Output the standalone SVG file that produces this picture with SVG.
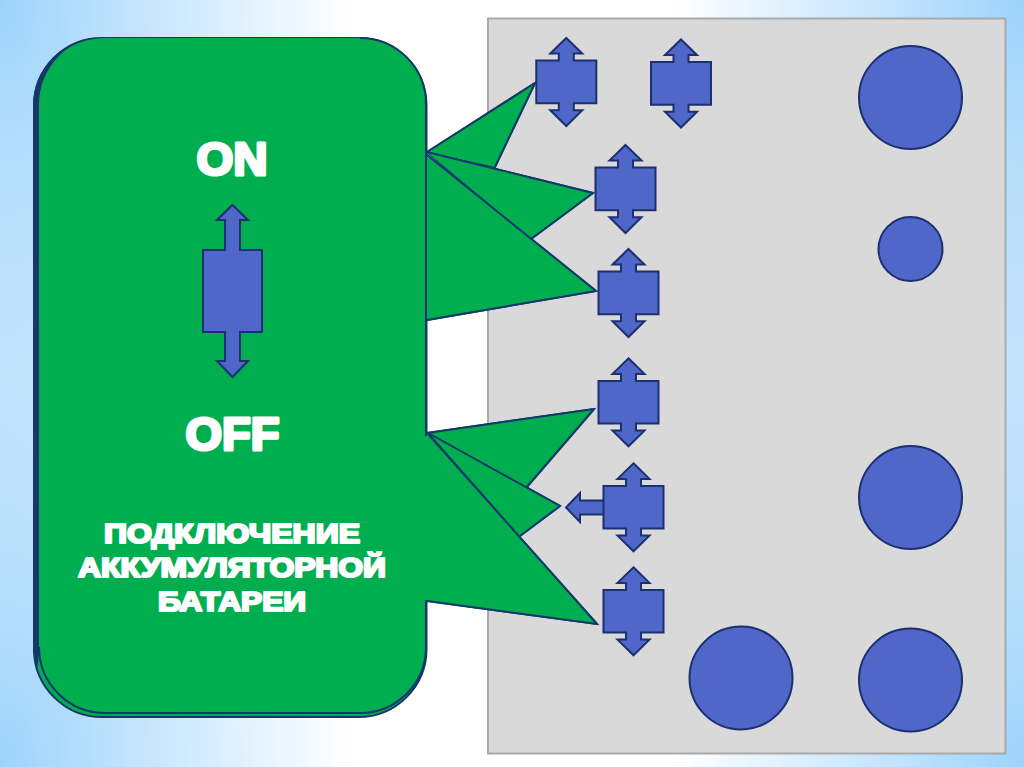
<svg xmlns="http://www.w3.org/2000/svg" width="1024" height="767" viewBox="0 0 1024 767">
<style>
.co{fill:#00ae50;stroke:#14386b;stroke-width:2;stroke-linejoin:miter}
.sh{fill:#4f67c8;stroke:#1c2f6e;stroke-width:2;stroke-linejoin:miter}
.t{font-family:"Liberation Sans",Arial,sans-serif;font-weight:bold;fill:#fff;stroke:#fff;text-anchor:middle;stroke-linejoin:round}
.big{font-size:46px;stroke-width:3.2}
.sm{font-size:27px;stroke-width:2.2}
</style>
<defs>
<radialGradient id="c1" gradientUnits="userSpaceOnUse" cx="0" cy="0" r="1" gradientTransform="translate(0 0) scale(350 640)"><stop offset="0" stop-color="#9dd3fb"/><stop offset="1" stop-color="#9dd3fb" stop-opacity="0"/></radialGradient>
<radialGradient id="c2" gradientUnits="userSpaceOnUse" cx="0" cy="0" r="1" gradientTransform="translate(1024 0) scale(350 640)"><stop offset="0" stop-color="#9dd3fb"/><stop offset="1" stop-color="#9dd3fb" stop-opacity="0"/></radialGradient>
<radialGradient id="c3" gradientUnits="userSpaceOnUse" cx="0" cy="0" r="1" gradientTransform="translate(0 767) scale(350 640)"><stop offset="0" stop-color="#9dd3fb"/><stop offset="1" stop-color="#9dd3fb" stop-opacity="0"/></radialGradient>
<radialGradient id="c4" gradientUnits="userSpaceOnUse" cx="0" cy="0" r="1" gradientTransform="translate(1024 767) scale(350 640)"><stop offset="0" stop-color="#9dd3fb"/><stop offset="1" stop-color="#9dd3fb" stop-opacity="0"/></radialGradient>
<path id="dbl" class="sh" d="M0 0L16 15.600H7.500V22.600H30V65.300H7.500V72.300H16L0 88L-16 72.300H-7.500V65.300H-30V22.600H-7.500V15.600H-16Z"/>
</defs>
<rect width="1024" height="767" fill="#fff"/>
<rect width="1024" height="767" fill="url(#c1)"/>
<rect width="1024" height="767" fill="url(#c2)"/>
<rect width="1024" height="767" fill="url(#c3)"/>
<rect width="1024" height="767" fill="url(#c4)"/>
<g id="panel"><rect x="488" y="18.500" width="517.500" height="735" fill="#d9d9d9" stroke="#a9a9a9" stroke-width="2"/></g>
<g id="connectors">
<path class="co" d="M427 152L535 83L495 167Z"/>
<path class="co" d="M427 152L593 193L531 239Z"/>
<path class="co" d="M427 155L596 291L427 320Z"/>
<path class="co" d="M427 433L594 409L526 488Z"/>
<path class="co" d="M430 434L560 506L520 536Z"/>
<path class="co" d="M427 433L597 624L427 601Z"/>
</g>
<g id="callout">
<rect x="34" y="38" width="392.500" height="679" rx="68" ry="68" fill="#00ae50" stroke="#14386b" stroke-width="2"/>
<path d="M33 106A68 68 0 0 1 102 37.500A62 66 0 0 0 40 104V645L37 672L33 650Z" fill="#14386b"/>
<path d="M39 38H360A66 66 0 0 1 426 104V647A66 66 0 0 1 360 713H105A66 66 0 0 1 39 647V104A66 66 0 0 1 105 38Z" fill="#00ae50"/>
<path d="M39 647A66 66 0 0 0 105 713H360A66 66 0 0 0 426 647V104A66 66 0 0 0 360 38" fill="none" stroke="#14386b" stroke-width="2"/>
<path d="M427 155L596 291L427 320Z" fill="#00ae50"/>
<path d="M427 433L594 409L526 488Z M430 434L560 506L520 536Z M427 433L597 624L427 601Z" fill="#00ae50"/>
<path d="M427 152L535 83L495 167Z M427 152L593 193L531 239Z" fill="#00ae50"/>
<path d="M427 152L593 193M427 152L535 83M427 155L596 291M427 320L596 291M427 433L594 409M430 434L560 506M428 434L597 624M427 601L597 624M495 167L535 83M531 239L593 193M526 488L594 409M520 536L560 506" fill="none" stroke="#14386b" stroke-width="2"/>
<path d="M425.500 436V600" stroke="#00ae50" stroke-width="3.500" fill="none"/>
</g>
<g id="label-on"><text class="t big" x="232" y="175" textLength="71" lengthAdjust="spacingAndGlyphs">ON</text></g>
<g id="label-off"><text class="t big" x="232.500" y="450" textLength="94" lengthAdjust="spacingAndGlyphs">OFF</text></g>
<g id="label-battery">
<text class="t sm" x="232" y="542.500" textLength="256" lengthAdjust="spacingAndGlyphs">ПОДКЛЮЧЕНИЕ</text>
<text class="t sm" x="232" y="576.500" textLength="308" lengthAdjust="spacingAndGlyphs">АККУМУЛЯТОРНОЙ</text>
<text class="t sm" x="232" y="611" textLength="148" lengthAdjust="spacingAndGlyphs">БАТАРЕИ</text>
</g>
<g id="switch"><path class="sh" d="M232.500 205L248 220H240V250H262V332H240V361H248L232.500 377L217 361H225V332H203V250H225V220H217Z"/></g>
<g id="sw1"><use href="#dbl" x="566.300" y="38"/></g>
<g id="sw2"><use href="#dbl" x="681" y="39.500"/></g>
<g id="sw3"><use href="#dbl" x="625.500" y="145"/></g>
<g id="sw4"><use href="#dbl" x="628.500" y="249"/></g>
<g id="sw5"><use href="#dbl" x="628.500" y="358.300"/></g>
<g id="sw6"><path class="sh" d="M604 500.500H580V493L566 507.500L580 522V514.500H604Z"/><use href="#dbl" x="633.500" y="463.300"/></g>
<g id="sw7"><use href="#dbl" x="633.500" y="567.300"/></g>
<g id="lamp1"><circle class="sh" cx="910.500" cy="97.500" r="51.500"/></g>
<g id="lamp2"><circle class="sh" cx="910.500" cy="249" r="32"/></g>
<g id="lamp3"><circle class="sh" cx="910.500" cy="497.500" r="51.500"/></g>
<g id="lamp4"><circle class="sh" cx="741" cy="678" r="51.500"/></g>
<g id="lamp5"><circle class="sh" cx="910.500" cy="680" r="51.500"/></g>
</svg>
